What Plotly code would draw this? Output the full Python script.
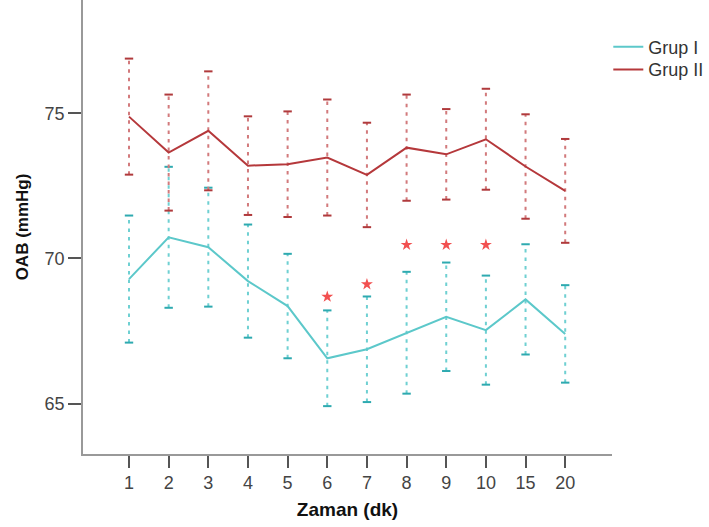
import plotly.graph_objects as go

categories = ["1", "2", "3", "4", "5", "6", "7", "8", "9", "10", "15", "20"]

grup1_mean = [69.29, 70.73, 70.39, 69.22, 68.36, 66.56, 66.87, 67.44, 67.99, 67.53, 68.59, 67.40]
grup1_sd = [2.19, 2.43, 2.05, 1.95, 1.80, 1.65, 1.82, 2.10, 1.87, 1.88, 1.90, 1.68]

grup2_mean = [74.89, 73.65, 74.40, 73.20, 73.25, 73.48, 72.88, 73.82, 73.59, 74.11, 73.17, 72.33]
grup2_sd = [2.00, 2.00, 2.05, 1.70, 1.82, 2.00, 1.80, 1.83, 1.56, 1.74, 1.80, 1.79]

star_categories = ["6", "7", "8", "9", "10"]
star_values = [68.68, 69.11, 70.47, 70.47, 70.47]

CYAN = "#5cc8ca"
CYAN_DASH = "#6fd0d2"
CYAN_CAP = "#2eaab0"
RED = "#b5383b"
RED_DASH = "#d27a7c"
RED_CAP = "#b03a3c"
STAR = "#f25050"

xi = list(range(len(categories)))
pos = {c: i for i, c in enumerate(categories)}

fig = go.Figure()


def add_errorbars(mean, sd, dash_color, cap_color):
    ex, ey = [], []
    cx, cy = [], []
    for i, (m, s) in enumerate(zip(mean, sd)):
        ex += [i, i, None]
        ey += [m - s, m + s, None]
        cx += [i, i]
        cy += [m - s, m + s]
    fig.add_trace(go.Scatter(x=ex, y=ey, mode="lines",
                             line=dict(color=dash_color, width=2, dash="3.5px,5px"),
                             showlegend=False, hoverinfo="skip"))
    fig.add_trace(go.Scatter(x=cx, y=cy, mode="markers",
                             marker=dict(symbol="line-ew", size=6,
                                         line=dict(color=cap_color, width=2)),
                             showlegend=False, hoverinfo="skip"))


add_errorbars(grup1_mean, grup1_sd, CYAN_DASH, CYAN_CAP)
add_errorbars(grup2_mean, grup2_sd, RED_DASH, RED_CAP)

fig.add_trace(go.Scatter(x=xi, y=grup1_mean, mode="lines", name="Grup I",
                         line=dict(color=CYAN, width=2), legend="legend"))
fig.add_trace(go.Scatter(x=xi, y=grup2_mean, mode="lines", name="Grup II",
                         line=dict(color=RED, width=2), legend="legend2"))

fig.add_trace(go.Scatter(x=[pos[c] for c in star_categories], y=star_values,
                         mode="markers", showlegend=False,
                         marker=dict(symbol="star", size=9, color=STAR)))

legend_style = dict(xanchor="left", yanchor="top", x=0.993,
                    font=dict(size=18, color="#333333"), itemwidth=30,
                    bgcolor="rgba(0,0,0,0)")

fig.update_layout(
    width=709, height=527,
    margin=dict(l=83, r=97, t=0, b=73, autoexpand=False),
    paper_bgcolor="white", plot_bgcolor="white",
    font=dict(family="Liberation Sans, Arial, sans-serif", size=18, color="#333333"),
    showlegend=True,
    legend=dict(y=0.937, **legend_style),
    legend2=dict(y=0.937 - 0.0498, **legend_style),
)

fig.update_xaxes(
    range=[-1.16, 12.18],
    tickmode="array", tickvals=xi, ticktext=categories,
    showgrid=False, zeroline=False, automargin=False,
    showline=True, linecolor="#999999", linewidth=1.5,
    ticks="outside", ticklen=12, tickwidth=2, tickcolor="#555555",
    tickfont=dict(size=18, color="#444444"),
    title=dict(text="<b>Zaman (dk)</b>", font=dict(size=19, color="#111111"), standoff=10),
)
fig.update_yaxes(
    range=[63.26, 78.91],
    tickmode="array", tickvals=[65, 70, 75], ticktext=["65", "70", "75"],
    showgrid=False, zeroline=False, automargin=False,
    showline=True, linecolor="#999999", linewidth=1.5,
    ticks="outside", ticklen=13, tickwidth=2, tickcolor="#555555",
    tickfont=dict(size=18, color="#444444"),
    title=dict(text="<b>OAB (mmHg)</b>", font=dict(size=17, color="#111111"), standoff=12),
)

fig.write_html("out.html", config={"displayModeBar": False},
               post_script="document.body.style.margin='0';document.body.style.overflow='hidden';")
